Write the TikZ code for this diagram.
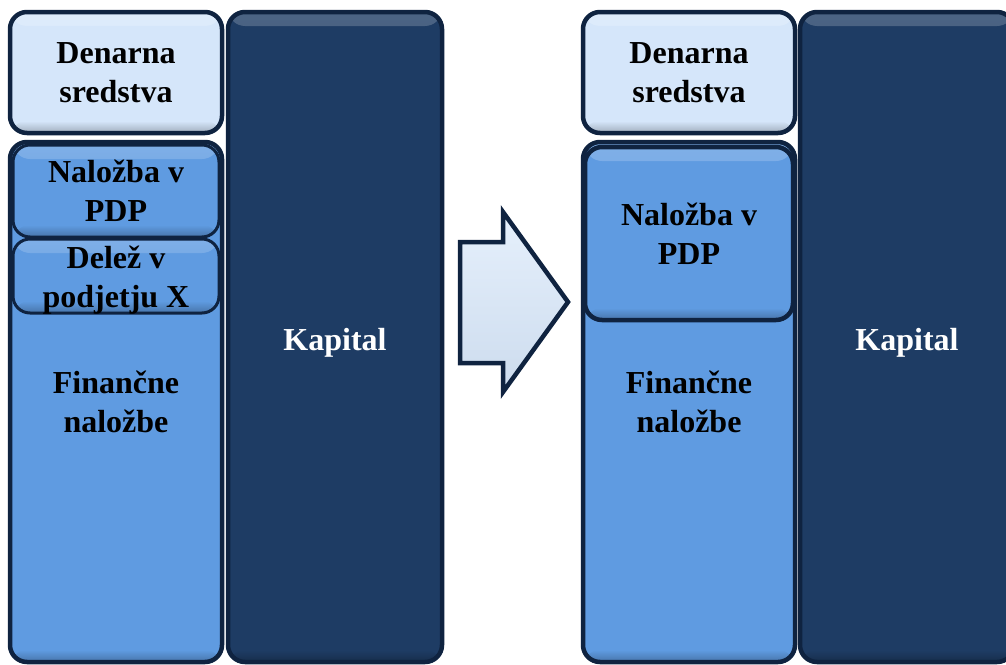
\documentclass[tikz,border=0pt]{standalone}
\usepackage{fontspec}
\setmainfont{Liberation Serif}
\definecolor{navy}{HTML}{1E3C64}
\definecolor{edge}{HTML}{0F2340}
\definecolor{midblue}{HTML}{5F9BE1}
\definecolor{lightblue}{HTML}{D5E6FA}
\tikzset{
  glossy/.style={draw=edge, line width=4.5pt, fill=#1, rounded corners=17pt,
    path picture={
      \shade[top color=#1!80!white, bottom color=#1]
        (path picture bounding box.north west) rectangle ([yshift=-14pt]path picture bounding box.north east);
      \shade[top color=#1, bottom color=#1!75!black]
        ([yshift=12pt]path picture bounding box.south west) rectangle (path picture bounding box.south east);
    }},
  lbl/.style={font=\bfseries\fontsize{32}{39}\selectfont, align=center, text=black},
  lightbox/.style={glossy=lightblue, lbl},
  midbox/.style={glossy=midblue, lbl},
  kapbox/.style={glossy=navy, lbl, text=white},
  arrowshape/.style={draw=edge, line width=4.5pt, line join=miter, top color=lightblue!60!white, bottom color=lightblue!90!gray}
}
\begin{document}
\begin{tikzpicture}[x=1pt,y=-1pt]
\useasboundingbox (0,0) rectangle (1006,664);
\clip (0,0) rectangle (1006,664);
% left group
\node[lightbox, minimum width=212pt, minimum height=121pt] (denL) at (116,72.5) {Denarna\\sredstva};
\node[midbox, minimum width=212pt, minimum height=520pt] (finL) at (116,402) {Finančne\\naložbe};
\node[midbox, minimum width=206pt, minimum height=92pt, line width=3pt] (nalL) at (116,191) {Naložba v\\PDP};
\node[midbox, minimum width=206pt, minimum height=74pt, line width=3pt] (delL) at (116,276) {};
\node[lbl] (delLtext) at (116,280) {Delež v\\podjetju X};
\node[kapbox, minimum width=214pt, minimum height=650pt] (kapL) at (335,337) {};
\node[lbl, text=white] (kapLtext) at (335,343) {Kapital};
% arrow
\path[arrowshape] (460,242) -- (503,242) -- (503,212) -- (568,302) -- (503,392) -- (503,363) -- (460,363) -- cycle;
% right group
\node[lightbox, minimum width=212pt, minimum height=121pt] (denR) at (689,72.5) {Denarna\\sredstva};
\node[midbox, minimum width=212pt, minimum height=520pt] (finR) at (689,402) {Finančne\\naložbe};
\node[midbox, minimum width=208pt, minimum height=173pt] (nalR) at (689,233.5) {Naložba v\\PDP};
\node[kapbox, minimum width=214pt, minimum height=650pt] (kapR) at (907,337) {};
\node[lbl, text=white] (kapRtext) at (907,343) {Kapital};
\end{tikzpicture}
\end{document}
